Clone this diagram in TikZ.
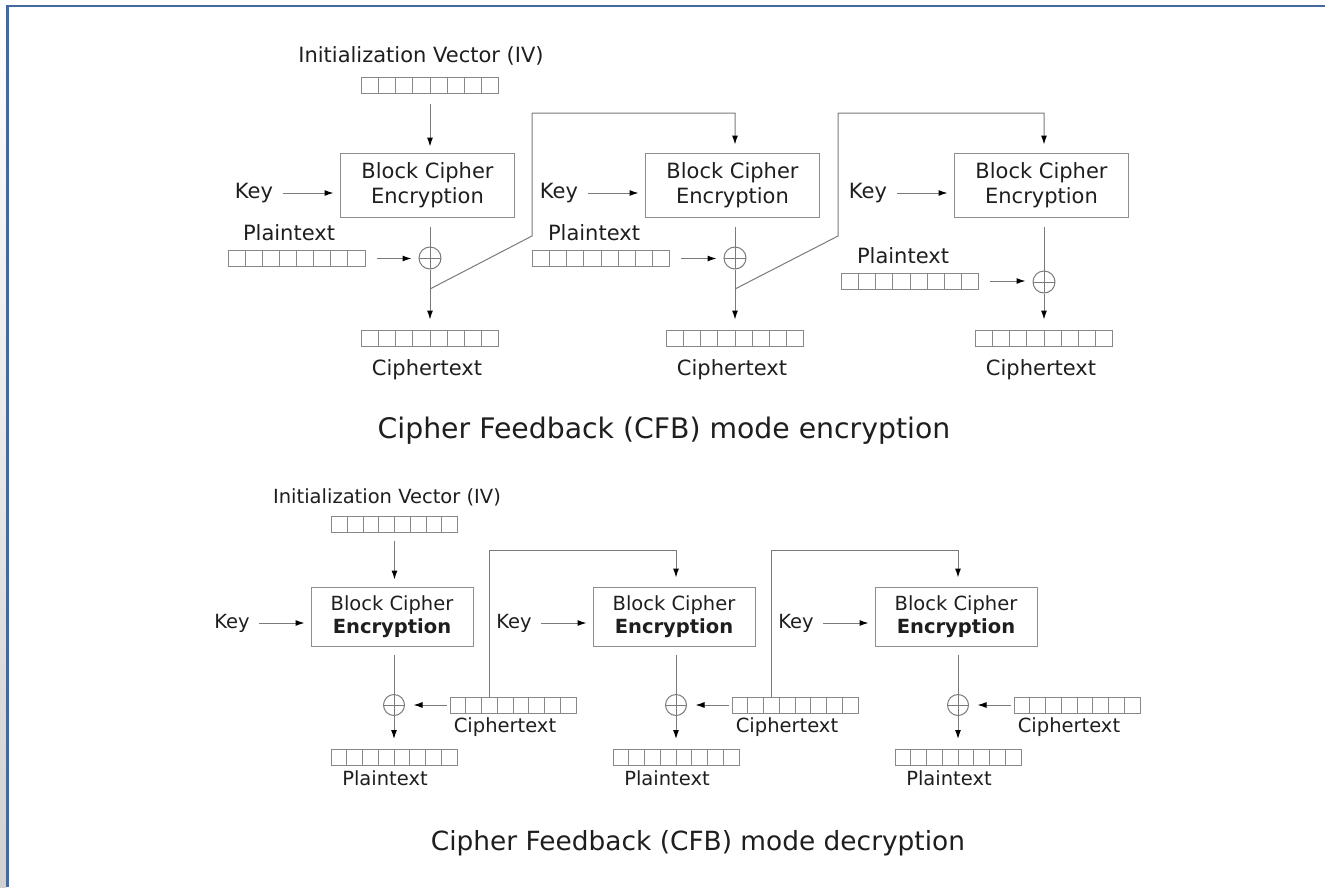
\documentclass[tikz,border=0pt]{standalone}
\usepackage{fontspec}
\setmainfont{DejaVu Sans}
\usetikzlibrary{arrows.meta,calc}

\definecolor{linec}{HTML}{7A7A7A}
\definecolor{boxc}{HTML}{8E8E8E}
\definecolor{regc}{HTML}{888888}
\definecolor{txtc}{HTML}{1E1E1E}
\definecolor{framec}{HTML}{44699F}

\tikzset{
  lblA/.style={font=\fontsize{21}{25}\selectfont, text=txtc, inner sep=0pt},
  lblB/.style={font=\fontsize{19.5}{23}\selectfont, text=txtc, inner sep=0pt},
  regcells/.style={path picture={
      \foreach \i in {1,...,7}{
        \draw[regc, line width=1pt]
          ($(path picture bounding box.south west)!\i/8!(path picture bounding box.south east)$) --
          ($(path picture bounding box.north west)!\i/8!(path picture bounding box.north east)$);
      }}},
  regA/.style={draw=regc, line width=1pt, minimum width=137pt, minimum height=16pt, inner sep=0pt, regcells},
  regB/.style={draw=regc, line width=1pt, minimum width=126pt, minimum height=16pt, inner sep=0pt, regcells},
  encboxA/.style={lblA, draw=boxc, line width=1pt, minimum width=174pt, minimum height=64pt, align=center},
  encboxB/.style={lblB, draw=boxc, line width=1pt, minimum width=162pt, minimum height=59pt, align=center},
  xorgate/.style={circle, draw=linec, line width=1pt, inner sep=0pt,
    path picture={\draw[linec, line width=1pt]
      (path picture bounding box.north) -- (path picture bounding box.south)
      (path picture bounding box.west) -- (path picture bounding box.east);}},
  xorA/.style={xorgate, minimum size=22pt},
  xorB/.style={xorgate, minimum size=21pt},
  wire/.style={draw=linec, line width=1pt},
  flow/.style={wire, -{Latex[length=9pt,width=6pt,color=black]}},
  ttl/.style={text=txtc, inner sep=0pt},
}

\begin{document}
\begin{tikzpicture}[x=1pt,y=-1pt]
\useasboundingbox (0,0) rectangle (1325,887);

% window frame
\shade[top color=white, bottom color=black!18] (0,0) rectangle (6,887);
\draw[framec, line width=2.5pt] (7.5,887) -- (7.5,6) -- (1325,6);

% ---------------- encryption ----------------
\node[lblA] (ivlA) at (421,56) {Initialization Vector (IV)};
\node[regA] (ivA) at (430,85.5) {};

\node[encboxA] (ebA1) at (427.5,185) {Block Cipher\\Encryption};
\node[encboxA] (ebA2) at (732.5,185) {Block Cipher\\Encryption};
\node[encboxA] (ebA3) at (1041.5,185) {Block Cipher\\Encryption};

\node[lblA] (keyA1) at (254,193) {Key};
\node[lblA] (keyA2) at (559,193) {Key};
\node[lblA] (keyA3) at (868,193) {Key};

\node[lblA] (ptlA1) at (289,233) {Plaintext};
\node[lblA] (ptlA2) at (594,233) {Plaintext};
\node[lblA] (ptlA3) at (903,256) {Plaintext};

\node[regA] (ptA1) at (296.5,258.5) {};
\node[regA] (ptA2) at (601,258.5) {};
\node[regA] (ptA3) at (910,281) {};

\node[xorA] (xA1) at (430,258) {};
\node[xorA] (xA2) at (735,258) {};
\node[xorA] (xA3) at (1044,282) {};

\node[regA] (ctA1) at (430,338) {};
\node[regA] (ctA2) at (735,338) {};
\node[regA] (ctA3) at (1044,338) {};

\node[lblA] (ctlA1) at (427,370) {Ciphertext};
\node[lblA] (ctlA2) at (732,370) {Ciphertext};
\node[lblA] (ctlA3) at (1041,370) {Ciphertext};

\draw[flow, shorten <=10pt, shorten >=6pt] (ivA.south) -- (ivA.south |- ebA1.north);

\foreach \c in {1,2,3}{
  \draw[flow, shorten <=10pt, shorten >=6.5pt] (keyA\c.east) -- (keyA\c.east -| ebA\c.west);
  \draw[flow, shorten <=11pt, shorten >=7pt] (ptA\c.east) -- (ptA\c.east -| xA\c.west);
  \draw[wire, shorten <=9pt] (xA\c.north |- ebA\c.south) -- (xA\c.north);
  \draw[flow, shorten >=10pt] (xA\c.south) -- (ctA\c.north);
}

% ciphertext fed back into the next block
\coordinate (jA1) at (430,289);
\coordinate (fA1) at (532,236);
\coordinate (gA1) at (532,113);
\coordinate (jA2) at (735,289);
\coordinate (fA2) at (838,236);
\coordinate (gA2) at (838,113);
\draw[flow, shorten >=8pt] (jA1) -- (fA1) -- (gA1) -| (ebA2.north -| xA2);
\draw[flow, shorten >=8pt] (jA2) -- (fA2) -- (gA2) -| (ebA3.north -| xA3);

\node[ttl, font=\fontsize{28.3}{33}\selectfont] (ttlA) at (664,431) {Cipher Feedback (CFB) mode encryption};

% ---------------- decryption ----------------
\node[lblB] (ivlB) at (387,497) {Initialization Vector (IV)};
\node[regB] (ivB) at (394.5,524) {};

\node[encboxB] (ebB1) at (392,616.5) {Block Cipher\\\textbf{Encryption}};
\node[encboxB] (ebB2) at (674,616.5) {Block Cipher\\\textbf{Encryption}};
\node[encboxB] (ebB3) at (956,616.5) {Block Cipher\\\textbf{Encryption}};

\node[lblB] (keyB1) at (232,623) {Key};
\node[lblB] (keyB2) at (514,623) {Key};
\node[lblB] (keyB3) at (796,623) {Key};

\node[xorB] (xB1) at (394,705) {};
\node[xorB] (xB2) at (676,705) {};
\node[xorB] (xB3) at (958,705) {};

\node[regB] (ctB1) at (513,705) {};
\node[regB] (ctB2) at (795,705) {};
\node[regB] (ctB3) at (1077,705) {};

\node[lblB] (ctlB1) at (505,727) {Ciphertext};
\node[lblB] (ctlB2) at (787,727) {Ciphertext};
\node[lblB] (ctlB3) at (1069,727) {Ciphertext};

\node[regB] (ptB1) at (394,757.5) {};
\node[regB] (ptB2) at (676,757.5) {};
\node[regB] (ptB3) at (958,757.5) {};

\node[lblB] (ptlB1) at (385,778) {Plaintext};
\node[lblB] (ptlB2) at (667,778) {Plaintext};
\node[lblB] (ptlB3) at (949,778) {Plaintext};

\draw[flow, shorten <=8pt, shorten >=7pt] (ivB.south) -- (ivB.south |- ebB1.north);

\foreach \c in {1,2,3}{
  \draw[flow, shorten <=9pt, shorten >=6pt] (keyB\c.east) -- (keyB\c.east -| ebB\c.west);
  \draw[flow, shorten <=3pt, shorten >=8.5pt] (ctB\c.west) -- (ctB\c.west -| xB\c.east);
  \draw[wire, shorten <=8pt] (xB\c.north |- ebB\c.south) -- (xB\c.north);
  \draw[flow, shorten >=10pt] (xB\c.south) -- (ptB\c.north);
}

% ciphertext fed back into the next block
\coordinate (fB1) at (489,550);
\coordinate (fB2) at (771,550);
\draw[flow, shorten >=9pt] (ctB1.north -| fB1) -- (fB1) -| (ebB2.north -| xB2);
\draw[flow, shorten >=9pt] (ctB2.north -| fB2) -- (fB2) -| (ebB3.north -| xB3);

\node[ttl, font=\fontsize{26.4}{31}\selectfont] (ttlB) at (698,843) {Cipher Feedback (CFB) mode decryption};

\end{tikzpicture}
\end{document}
